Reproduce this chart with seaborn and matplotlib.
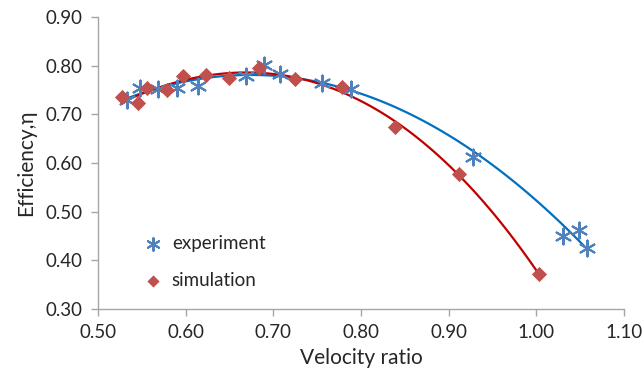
import numpy as np
import pandas as pd
import seaborn as sns
import matplotlib
matplotlib.use("Agg")
import matplotlib.pyplot as plt

exp_x = [0.533, 0.548, 0.569, 0.590, 0.614, 0.669, 0.689, 0.708, 0.756, 0.789, 0.928, 1.030, 1.049, 1.058]
exp_y = [0.730, 0.754, 0.752, 0.754, 0.758, 0.779, 0.801, 0.783, 0.764, 0.752, 0.612, 0.450, 0.463, 0.426]
sim_x = [0.527, 0.546, 0.556, 0.579, 0.597, 0.623, 0.650, 0.684, 0.725, 0.778, 0.839, 0.912, 1.003]
sim_y = [0.735, 0.723, 0.754, 0.749, 0.779, 0.781, 0.774, 0.795, 0.773, 0.756, 0.674, 0.577, 0.372]
x_ticks = [0.50, 0.60, 0.70, 0.80, 0.90, 1.00, 1.10]
y_ticks = [0.30, 0.40, 0.50, 0.60, 0.70, 0.80, 0.90]

exp_df = pd.DataFrame({"x": exp_x, "y": exp_y})
sim_df = pd.DataFrame({"x": sim_x, "y": sim_y})

sns.set_theme(style="white")
plt.rcParams["font.family"] = ["Lato", "DejaVu Sans"]

fig = plt.figure(figsize=(6.44, 3.85), dpi=100)
ax = fig.add_axes([0.152, 0.197, 0.817, 0.759])

sns.regplot(data=exp_df, x="x", y="y", order=2, ci=None, scatter=False, ax=ax,
            line_kws=dict(color="#0070C0", lw=1.6))
sns.regplot(data=sim_df, x="x", y="y", order=3, ci=None, scatter=False, ax=ax,
            line_kws=dict(color="#C00000", lw=1.6))
ax.scatter(exp_df.x, exp_df.y, marker=(6, 2, 0), s=130, color="#4F81BD", lw=1.5,
           label="experiment", zorder=3)
ax.scatter(sim_df.x, sim_df.y, marker="D", s=60, color="#C0504D", lw=0,
           label="simulation", zorder=3)

ax.set_xlim(0.5, 1.1)
ax.set_ylim(0.3, 0.9)
ax.set_xticks(x_ticks)
ax.set_yticks(y_ticks)
ax.set_xticklabels([f"{v:.2f}" for v in x_ticks])
ax.set_yticklabels([f"{v:.2f}" for v in y_ticks])
ax.tick_params(axis="both", labelsize=13.5, colors="#262626", length=5, width=1,
               direction="out", bottom=True, left=True, pad=6)
ax.tick_params(axis="both", color="#A6A6A6")
for s in ["top", "right"]:
    ax.spines[s].set_visible(False)
for s in ["left", "bottom"]:
    ax.spines[s].set_color("#A6A6A6")
    ax.spines[s].set_linewidth(1)
ax.set_xlabel("Velocity ratio", fontsize=15, color="#262626", labelpad=5)
ax.set_ylabel("Efficiency,η", fontsize=15, color="#262626", labelpad=7)

leg = ax.legend(loc="lower left", bbox_to_anchor=(0.055, 0.043), frameon=False, fontsize=13.5,
                handletextpad=0.0, labelspacing=1.05, borderaxespad=0, markerscale=0.8)

fig.savefig("out.png", dpi=100)
